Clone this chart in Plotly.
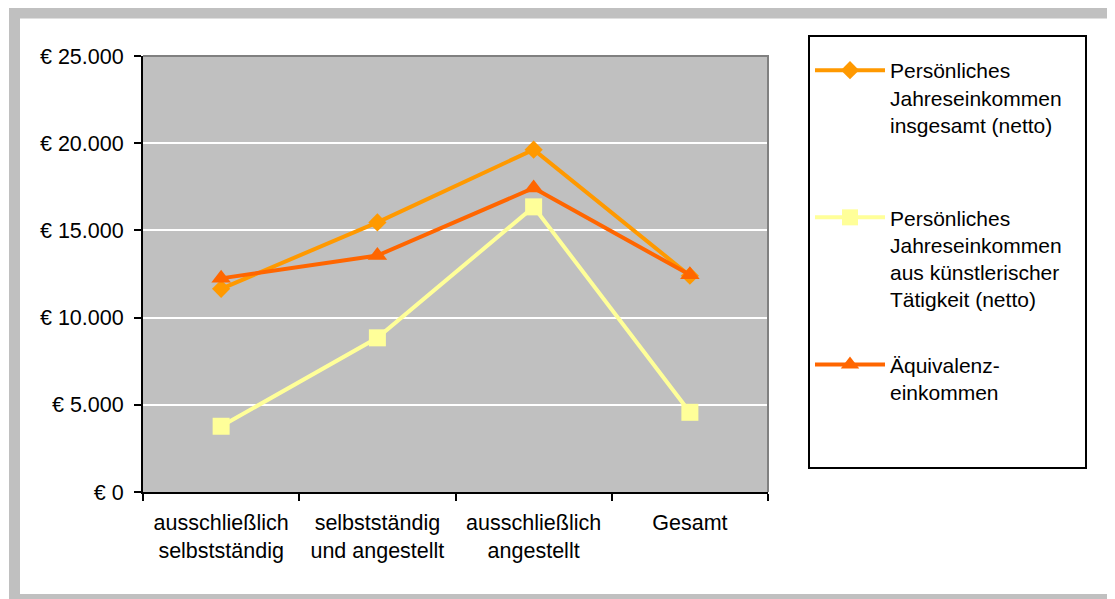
import plotly.graph_objects as go

categories = ["ausschließlich<br>selbstständig", "selbstständig<br>und angestellt",
              "ausschließlich<br>angestellt", "Gesamt"]
insgesamt = [11650, 15460, 19630, 12400]
kuenstlerisch = [3770, 8840, 16350, 4570]
aequivalenz = [12250, 13560, 17430, 12450]
series_names = ["Persönliches<br>Jahreseinkommen&nbsp;&nbsp;&nbsp;<br>insgesamt (netto)<br>&nbsp;",
                "Persönliches<br>Jahreseinkommen<br>aus künstlerischer<br>Tätigkeit (netto)",
                "Äquivalenz-<br>einkommen<br>&nbsp;<br>&nbsp;"]
y_tickvals = [0, 5000, 10000, 15000, 20000, 25000]
y_ticktext = ["€ 0", "€ 5.000", "€ 10.000", "€ 15.000", "€ 20.000", "€ 25.000"]

FONT = "Liberation Sans, Arial, sans-serif"

# page body has an 8px default margin; work in screen coords and subtract it
O = 8
W, H = 1115 - O, 599 - O
L, R, T, B = 143 - O, 768 - O, 56 - O, 492 - O
PW, PH = R - L, B - T

def px(x):
    return (x - O - L) / PW

def py(y):
    return (B - (y - O)) / PH

fig = go.Figure()
fig.add_trace(go.Scatter(x=categories, y=insgesamt, name=series_names[0], mode="lines+markers",
                         line=dict(color="#FF9900", width=4),
                         marker=dict(symbol="diamond", size=14, color="#FF9900"),
                         legendgroup="a"))
fig.add_trace(go.Scatter(x=categories, y=kuenstlerisch, name=series_names[1], mode="lines+markers",
                         line=dict(color="#FFFF99", width=4),
                         marker=dict(symbol="square", size=17, color="#FFFF99"),
                         legendgroup="b"))
fig.add_trace(go.Scatter(x=categories, y=aequivalenz, name=series_names[2], mode="lines+markers",
                         line=dict(color="#FF6600", width=4),
                         marker=dict(symbol="triangle-up", size=17, color="#FF6600"),
                         legendgroup="c"))

fig.update_layout(
    width=W, height=H,
    margin=dict(l=L, r=W - R, t=T, b=H - B, autoexpand=False),
    paper_bgcolor="white",
    plot_bgcolor="#C0C0C0",
    font=dict(family=FONT, size=21, color="black"),
    showlegend=True,
    legend=dict(
        x=px(808), y=py(35), xanchor="left", yanchor="top",
        bgcolor="white", bordercolor="black", borderwidth=2,
        font=dict(family=FONT, size=21, color="black"),
        title=dict(text="&nbsp;", font=dict(size=10)),
        valign="top", tracegroupgap=35, itemwidth=70,
        traceorder="grouped", maxheight=800,
    ),
    xaxis=dict(
        range=[-0.5, 3.5],
        showgrid=False, showline=True, linecolor="black", linewidth=2,
        ticks="outside", tickson="boundaries", ticklen=7, tickwidth=2, tickcolor="black",
        tickfont=dict(family=FONT, size=21.5, color="black"),
        ticklabelstandoff=10,
        fixedrange=True,
    ),
    yaxis=dict(
        range=[0, 25000], tickvals=y_tickvals, ticktext=y_ticktext,
        showgrid=True, gridcolor="white", gridwidth=2,
        showline=True, linecolor="black", linewidth=2,
        ticks="outside", ticklen=7, tickwidth=2, tickcolor="black",
        tickfont=dict(family=FONT, size=21.5, color="black"),
        ticklabelstandoff=6,
        zeroline=False, fixedrange=True,
    ),
    shapes=[
        dict(type="path", xref="paper", yref="paper",
             path=f"M {px(143)},{py(56)} L {px(768)},{py(56)} L {px(768)},{py(492)}",
             line=dict(color="#808080", width=2), layer="above"),
        dict(type="rect", xref="paper", yref="paper",
             x0=px(14.5), x1=px(1125), y0=py(13), y1=py(599.5),
             line=dict(color="#C0C0C0", width=11), fillcolor="rgba(0,0,0,0)", layer="below"),
    ],
)

fig.write_html("out.html")
